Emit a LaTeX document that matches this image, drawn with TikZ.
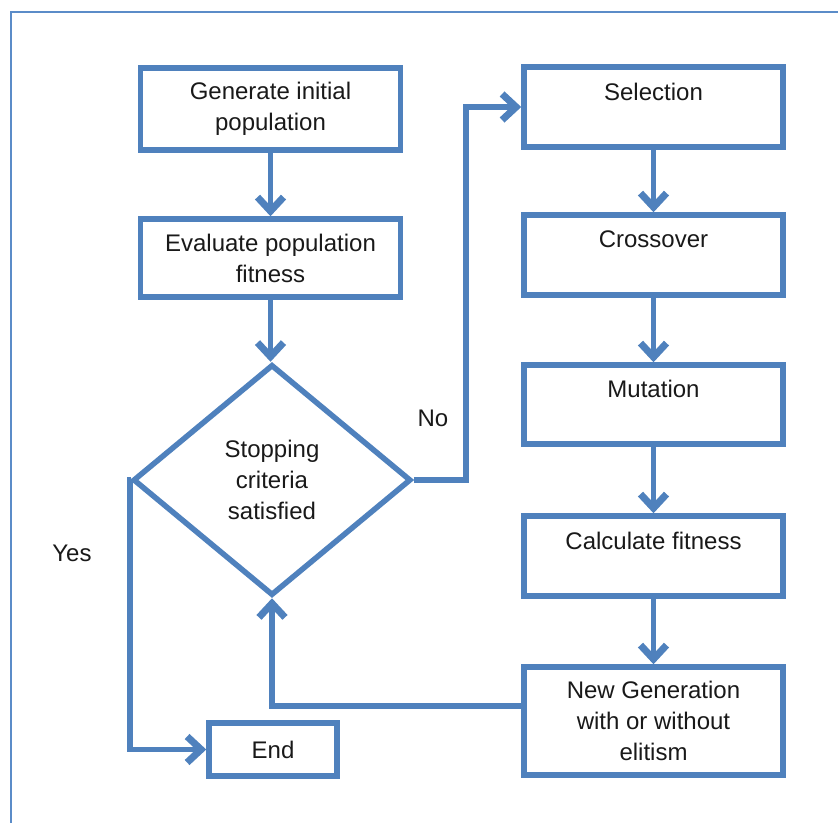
\documentclass[tikz,border=0pt]{standalone}
\usepackage{fontspec}
\setmainfont{Liberation Sans}
\usetikzlibrary{arrows.meta,shapes.geometric,calc}
\definecolor{flowblue}{RGB}{79,129,189}
\definecolor{frameblue}{RGB}{91,140,200}
\begin{document}
\begin{tikzpicture}[x=1pt,y=-1pt,
  every node/.style={font=\fontsize{24}{31}\selectfont, text=black!90},
  stepbox/.style={draw=flowblue, line width=5.5pt, rectangle, align=center,
    inner sep=0pt, minimum width=260pt},
  decision/.style={draw=flowblue, line width=5.5pt, diamond, align=center,
    inner sep=0pt, minimum width=278pt, minimum height=231pt},
  conn/.style={draw=flowblue, line width=5.5pt,
    -{Straight Barb[length=14pt,width=26pt,line width=7pt]}},
  tag/.style={font=\fontsize{24}{31}\selectfont}
]
\useasboundingbox (0,0) rectangle (838,822);
% page frame
\draw[frameblue, line width=2.2pt] (11,830) -- (11,12) -- (846,12);

% left column
\node[stepbox, minimum height=82pt] (gen) at (270.5,109) {Generate initial\\population};
\node[stepbox, minimum height=78pt] (eval) at (270.5,258) {Evaluate population\\fitness};
\node[decision] (stop) at (272,480) {Stopping\\criteria\\satisfied};
\node[stepbox, minimum width=128pt, minimum height=53pt] (end) at (273,749.5) {End};

% right column
\node[stepbox, minimum width=259pt, minimum height=80pt] (sel) at (653.5,107) {Selection\\\mbox{}};
\node[stepbox, minimum width=259pt, minimum height=80pt] (cross) at (653.5,255) {Crossover\\\mbox{}};
\node[stepbox, minimum width=259pt, minimum height=79pt] (mut) at (653.5,404.5) {Mutation\\\mbox{}};
\node[stepbox, minimum width=259pt, minimum height=80pt] (calc) at (653.5,556) {Calculate fitness\\\mbox{}};
\node[stepbox, minimum width=259pt, minimum height=108pt] (newgen) at (653.5,721) {New Generation\\with or without\\elitism};

% branch labels
\node[tag] (no) at (433,418) {No};
\node[tag] (yes) at (72,553) {Yes};

% connectors
\coordinate (nobend) at (466,0);
\coordinate (yesbend) at (130,0);
\coordinate (loopback) at ($(newgen.west)+(0,-15)$);

\draw[conn] (gen.south) -- (eval.north);
\draw[conn] (eval.south) -- (eval.south |- stop.north);
\draw[conn] (stop.east) -| (nobend |- sel.west) -- (sel.west);
\draw[conn] (stop.west) -- (yesbend |- stop.west) |- (end.west);
\draw[conn] (loopback) -| (stop.south);

\draw[conn] (sel.south) -- (cross.north);
\draw[conn] (cross.south) -- (mut.north);
\draw[conn] (mut.south) -- (calc.north);
\draw[conn] (calc.south) -- (newgen.north);
\end{tikzpicture}
\end{document}
